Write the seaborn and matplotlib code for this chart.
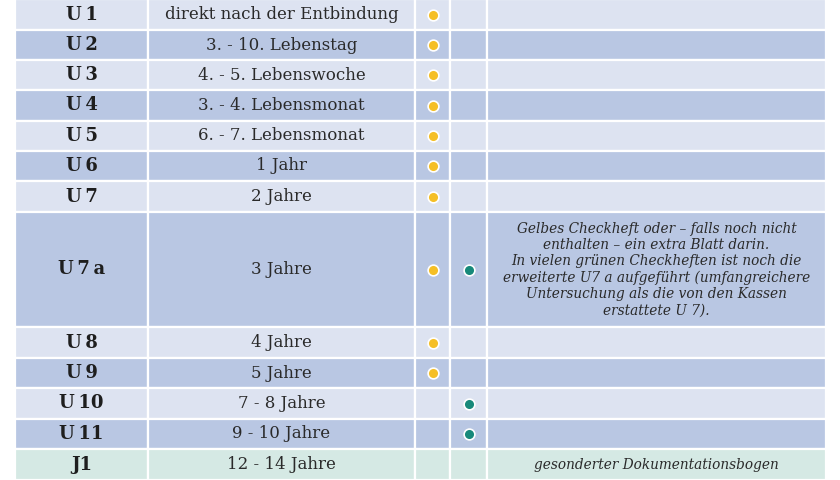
import matplotlib
matplotlib.use("Agg")
import matplotlib.pyplot as plt
import seaborn as sns

codes = ["U1","U2","U3","U4","U5","U6","U7","U7a","U8","U9","U10","U11","J1"]
ages = ["direkt nach der Entbindung","3. - 10. Lebenstag","4. - 5. Lebenswoche","3. - 4. Lebensmonat",
        "6. - 7. Lebensmonat","1 Jahr","2 Jahre","3 Jahre","4 Jahre","5 Jahre","7 - 8 Jahre","9 - 10 Jahre","12 - 14 Jahre"]
yellow = [1,1,1,1,1,1,1,1,1,1,0,0,0]
green = [0,0,0,0,0,0,0,1,0,0,1,1,0]
notes = ["","","","","","","",
         "Gelbes Checkheft oder – falls noch nicht\nenthalten – ein extra Blatt darin.\nIn vielen grünen Checkheften ist noch die\nerweiterte U7 a aufgeführt (umfangreichere\nUntersuchung als die von den Kassen\nerstattete U 7).",
         "","","","","gesonderter Dokumentationsbogen"]
row_heights = [31,30,30,31,30,30,31,115,31,30,31,30,31]
col_edges = [15,148,415,450,487,826]

sns.set_theme(style="white")
fig = plt.figure(figsize=(8.4,4.8), dpi=100)
ax = fig.add_axes([0,0,1,1])
ax.set_xlim(0,840); ax.set_ylim(480,0); ax.axis("off")
fig.patch.set_facecolor("white")

light, dark, mint = "#dde3f1", "#b9c7e3", "#d5e9e4"
tops = []
y = -1
for h in row_heights:
    tops.append(y); y += h
for i,(c,a,yl,gr,n,h,t) in enumerate(zip(codes,ages,yellow,green,notes,row_heights,tops)):
    col = mint if c=="J1" else (light if i%2==0 else dark)
    for j in range(5):
        ax.bar(col_edges[j], h, width=col_edges[j+1]-col_edges[j], bottom=t, align="edge",
               color=col, edgecolor="white", linewidth=1.6)
    yc = t + h/2
    lbl = c if c == "J1" else c.replace("U", "U\u2009").replace("7a", "7\u2009a")
    ax.text(81.5, yc, lbl, ha="center", va="center",
            fontsize=13, fontweight="bold", family="DejaVu Serif", color="#1e1e1e")
    ax.text(281.5, yc, a, ha="center", va="center", fontsize=12, family="DejaVu Serif", color="#2a2a2a")
    if yl: ax.scatter([432.5],[yc], s=60, color="#f5bf26", edgecolor="white", linewidth=1.2, zorder=3)
    if gr: ax.scatter([468.5],[yc], s=60, color="#17897a", edgecolor="white", linewidth=1.2, zorder=3)
    if n:
        ax.text(656.5, yc, n, ha="center", va="center", fontsize=9.8, style="italic",
                family="DejaVu Serif", color="#2a2a2a", linespacing=1.2)
fig.savefig("out.png", dpi=100)
